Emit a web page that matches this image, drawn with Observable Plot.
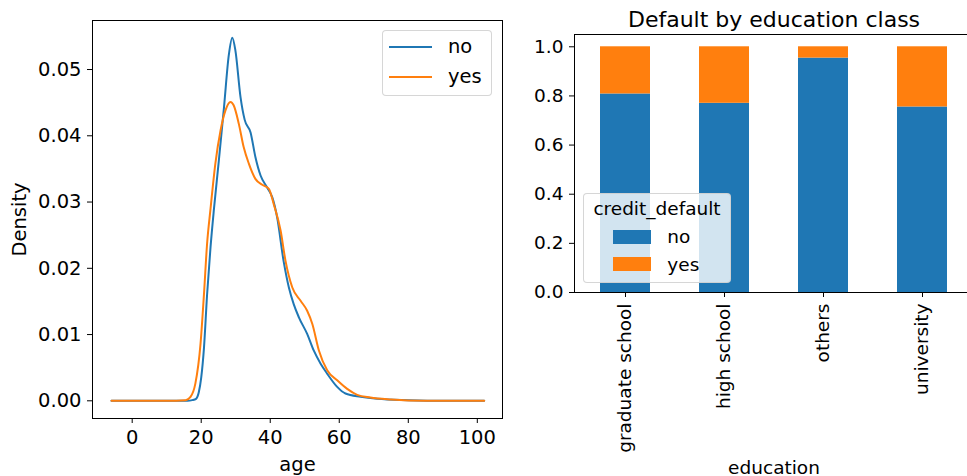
<!DOCTYPE html>
<html><head><meta charset="utf-8">
<script src="https://cdn.jsdelivr.net/npm/d3@7"></script>
<script src="https://cdn.jsdelivr.net/npm/@observablehq/plot@0.6"></script>
<style>
html,body{margin:0;padding:0;background:#fff;}
#root{position:relative;width:967px;height:476px;overflow:hidden;font-family:"DejaVu Sans",sans-serif;color:#000;}
.panel{position:absolute;top:0;}
.panel svg{display:block;max-width:none;}
.legend{position:absolute;box-sizing:border-box;border:1px solid rgba(204,204,204,0.8);border-radius:4px;background:rgba(255,255,255,0.8);}
.legend div{position:absolute;white-space:nowrap;}
</style></head><body><div id="root"></div>
<script>
// ---------- data ----------
const seriesNames = ["no", "yes"];
const seriesColors = ["#1f77b4", "#ff7f0e"];

const ageNo = [-6, 10, 16, 17.4, 18.5, 19.3, 20.0, 20.8, 21.7, 22.7, 23.7, 25.1, 26.6, 28.0, 29.0, 29.9, 31.4, 32.6, 34.3, 35.7, 37.2, 39.1, 40.6, 42.0, 43.9, 45.4, 46.8, 48.3, 50.7, 52.6, 54.6, 56.5, 59.4, 61.8, 66.2, 71, 80, 90, 102];
const densityNo = [0, 0, 0, 0.0001, 0.0003, 0.0013, 0.0035, 0.0080, 0.0160, 0.0232, 0.0290, 0.0362, 0.0443, 0.0522, 0.0548, 0.0529, 0.0458, 0.0424, 0.0405, 0.0368, 0.0340, 0.0322, 0.0307, 0.0277, 0.0210, 0.0171, 0.0146, 0.0126, 0.0101, 0.0076, 0.0056, 0.0041, 0.0021, 0.0011, 0.0006, 0.0003, 0.0001, 0, 0];

const ageYes = [-6, 10, 15.5, 16.9, 18.3, 19.8, 20.8, 21.7, 22.7, 24.1, 25.6, 27.0, 28.5, 29.4, 30.9, 32.3, 33.8, 35.7, 37.7, 39.6, 41.0, 43.0, 44.4, 46.4, 48.8, 50.7, 52.2, 54.1, 56.5, 59.4, 62.3, 65.2, 69, 75, 85, 102];
const densityYes = [0, 0, 0.0001, 0.0006, 0.0026, 0.0086, 0.0161, 0.0237, 0.0290, 0.0358, 0.0408, 0.0438, 0.0451, 0.0446, 0.0418, 0.0383, 0.0358, 0.0335, 0.0326, 0.0320, 0.0297, 0.0257, 0.0212, 0.0171, 0.0151, 0.0136, 0.0116, 0.0076, 0.0046, 0.0031, 0.0018, 0.0009, 0.0005, 0.0002, 0, 0];

const ageTicks = [0, 20, 40, 60, 80, 100];
const densityTicks = [0, 0.01, 0.02, 0.03, 0.04, 0.05];

const educationClasses = ["graduate school", "high school", "others", "university"];
const shareNo = [0.808, 0.770, 0.954, 0.755];
const shareYes = [0.192, 0.230, 0.046, 0.245];
const shareTicks = [0, 0.2, 0.4, 0.6, 0.8, 1.0];

const leftXLabel = "age";
const leftYLabel = "Density";
const rightTitle = "Default by education class";
const rightXLabel = "education";
const legendTitle = "credit_default";

// ---------- build ----------
const root = document.getElementById("root");

const kde = [];
ageNo.forEach((a, i) => kde.push({age: a, density: densityNo[i], credit_default: seriesNames[0]}));
ageYes.forEach((a, i) => kde.push({age: a, density: densityYes[i], credit_default: seriesNames[1]}));

const baseStyle = {fontFamily: "'DejaVu Sans', sans-serif", background: "transparent", overflow: "visible", color: "#000", maxWidth: "none"};

const left = Plot.plot({
  width: 510, height: 476,
  marginLeft: 92, marginRight: 8, marginTop: 20, marginBottom: 58,
  style: {...baseStyle, fontSize: "19.5px"},
  x: {domain: [-11.5, 107.3]},
  y: {domain: [-0.00267, 0.0574]},
  color: {domain: seriesNames, range: seriesColors},
  marks: [
    Plot.line(kde, {x: "age", y: "density", stroke: "credit_default", strokeWidth: 2, curve: "monotone-x"}),
    Plot.frame({stroke: "#000", strokeWidth: 1}),
    Plot.axisX({ticks: ageTicks, tickSize: 5, tickPadding: 7, label: leftXLabel, labelAnchor: "center", labelOffset: 52, labelArrow: false}),
    Plot.axisY({ticks: densityTicks, tickFormat: d3.format(".2f"), tickSize: 5, tickPadding: 6, label: leftYLabel, labelAnchor: "center", labelOffset: 80, labelArrow: false})
  ]
});

const bars = [];
educationClasses.forEach((e, i) => {
  bars.push({education: e, credit_default: seriesNames[0], share: shareNo[i]});
  bars.push({education: e, credit_default: seriesNames[1], share: shareYes[i]});
});

const right = Plot.plot({
  width: 473, height: 476,
  marginLeft: 74, marginRight: 0, marginTop: 34, marginBottom: 184,
  style: {...baseStyle, fontSize: "18.5px"},
  x: {domain: educationClasses, paddingInner: 0.5, paddingOuter: 0.25},
  y: {domain: [0, 1.05]},
  color: {domain: seriesNames, range: seriesColors},
  marks: [
    Plot.barY(bars, {x: "education", y: "share", fill: "credit_default"}),
    Plot.frame({stroke: "#000", strokeWidth: 1}),
    Plot.axisX({tickSize: 5, tickPadding: 6, tickRotate: -90, label: rightXLabel, labelAnchor: "center", labelOffset: 181, labelArrow: false}),
    Plot.axisY({ticks: shareTicks, tickFormat: d3.format(".1f"), tickSize: 5, tickPadding: 6, label: null}),
    Plot.text([rightTitle], {frameAnchor: "top", dy: -8, lineAnchor: "bottom", fontSize: 22})
  ]
});

const lp = document.createElement("div"); lp.className = "panel"; lp.style.left = "0px"; lp.appendChild(left); root.appendChild(lp);
const rp = document.createElement("div"); rp.className = "panel"; rp.style.left = "500px"; rp.appendChild(right); root.appendChild(rp);

// left legend (lines)
const lg = document.createElement("div");
lg.className = "legend";
Object.assign(lg.style, {left: "382px", top: "30px", width: "110px", height: "66px", fontSize: "19.5px", lineHeight: "19.5px"});
seriesNames.forEach((name, i) => {
  const ln = document.createElement("div");
  Object.assign(ln.style, {left: "6px", top: (15 + 30 * i) + "px", width: "43px", height: "2px", background: seriesColors[i]});
  lg.appendChild(ln);
  const tx = document.createElement("div");
  Object.assign(tx.style, {left: "65px", top: (5.8 + 30 * i) + "px"});
  tx.textContent = name;
  lg.appendChild(tx);
});
root.appendChild(lg);

// right legend (patches)
const rg = document.createElement("div");
rg.className = "legend";
Object.assign(rg.style, {left: "583px", top: "193px", width: "148px", height: "90px", fontSize: "18.5px", lineHeight: "18.5px"});
const tt = document.createElement("div");
Object.assign(tt.style, {left: "0px", width: "146px", textAlign: "center", top: "6.4px"});
tt.textContent = legendTitle;
rg.appendChild(tt);
seriesNames.forEach((name, i) => {
  const pt = document.createElement("div");
  Object.assign(pt.style, {left: "28.7px", top: (36 + 27.3 * i) + "px", width: "38px", height: "14px", background: seriesColors[i]});
  rg.appendChild(pt);
  const tx = document.createElement("div");
  Object.assign(tx.style, {left: "83.3px", top: (34.3 + 27.7 * i) + "px"});
  tx.textContent = name;
  rg.appendChild(tx);
});
root.appendChild(rg);
</script></body></html>
